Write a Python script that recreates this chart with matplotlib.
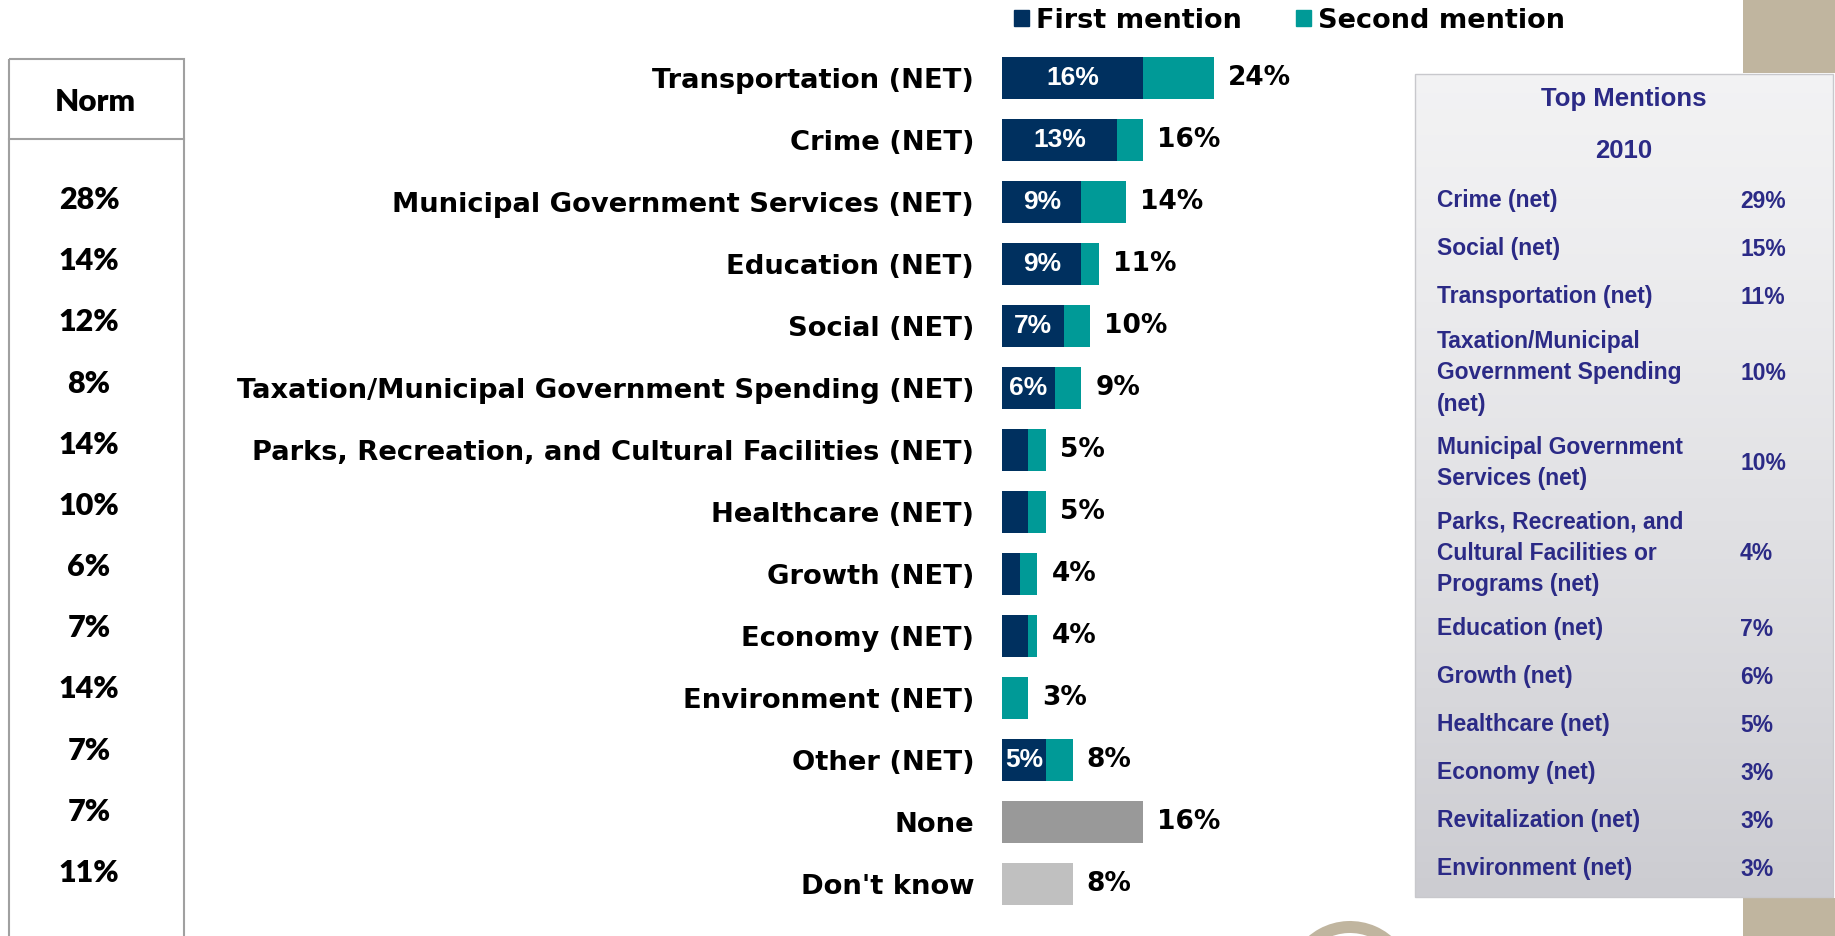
import matplotlib.pyplot as plt
import numpy as np
from matplotlib.patches import Rectangle, Patch, Wedge

# Data
categories = ['Transportation (NET)', 'Crime (NET)', 'Municipal Government Services (NET)',
              'Education (NET)', 'Social (NET)', 'Taxation/Municipal Government Spending (NET)',
              'Parks, Recreation, and Cultural Facilities (NET)', 'Healthcare (NET)',
              'Growth (NET)', 'Economy (NET)', 'Environment (NET)', 'Other (NET)',
              'None', "Don't know"]
first_mention = [16, 13, 9, 9, 7, 6, 3, 3, 2, 3, 0, 5, 0, 0]
second_mention = [8, 3, 5, 2, 3, 3, 2, 2, 2, 1, 3, 3, 0, 0]
none_dk = [0, 0, 0, 0, 0, 0, 0, 0, 0, 0, 0, 0, 16, 8]
totals = [24, 16, 14, 11, 10, 9, 5, 5, 4, 4, 3, 8, 16, 8]
inside_labels = ['16%', '13%', '9%', '9%', '7%', '6%', '', '', '', '', '', '5%', '', '']

norm_values = ['28%', '14%', '12%', '8%', '14%', '10%', '6%', '7%', '14%', '7%', '7%', '11%']

top_names = ['Crime (net)', 'Social (net)', 'Transportation (net)',
             'Taxation/Municipal\nGovernment Spending\n(net)',
             'Municipal Government\nServices (net)',
             'Parks, Recreation, and\nCultural Facilities or\nPrograms (net)',
             'Education (net)', 'Growth (net)', 'Healthcare (net)', 'Economy (net)',
             'Revitalization (net)', 'Environment (net)']
top_values = ['29%', '15%', '11%', '10%', '10%', '4%', '7%', '6%', '5%', '3%', '3%', '3%']

navy = '#00305f'
teal = '#009a97'
gray_none = '#999999'
gray_dk = '#c0c0c0'
table_blue = '#2b2a86'
tan = '#c0b59f'

W, H = 1835, 936
fig = plt.figure(figsize=(W / 100, H / 100), dpi=100)

# background layer in pixel coordinates
bg = fig.add_axes([0, 0, 1, 1])
bg.set_xlim(0, W)
bg.set_ylim(H, 0)
bg.axis('off')

# Norm box
bg.add_patch(Rectangle((9, 59), 175, 900, fill=False, edgecolor='#a0a0a0', lw=1.5))
bg.plot([9, 184], [139, 139], color='#a0a0a0', lw=1.5)
bg.text(95, 102, 'Norm', ha='center', va='center', fontsize=22.5, fontweight='heavy',
        family='Lato', color='black')
norm_y = np.linspace(200, 873, len(norm_values))
for v, y in zip(norm_values, norm_y):
    bg.text(89, y, v, ha='center', va='center', fontsize=22, fontweight='heavy',
            family='Lato', color='black')

# right panel with gradient
grad = np.linspace(0, 1, 256).reshape(-1, 1)
top_c = np.array([0.95, 0.95, 0.955])
bot_c = np.array([0.80, 0.80, 0.82])
img = top_c + (bot_c - top_c) * grad[:, :, None] ** 1.3
bg.imshow(img, extent=(1415, 1833, 897, 74), aspect='auto', zorder=1)
bg.add_patch(Rectangle((1415, 74), 418, 823, fill=False, edgecolor='#c8c8cc', lw=1, zorder=2))

# tan decorations
bg.add_patch(Rectangle((1743, 0), 92, 73, color=tan, lw=0, zorder=0))
bg.add_patch(Rectangle((1743, 898), 92, 38, color=tan, lw=0, zorder=0))
bg.add_patch(Wedge((1350, 985), 64, 215, 320, width=12, color=tan, lw=0))

# table text
bg.text(1624, 99, 'Top Mentions', ha='center', va='center', fontsize=18.5, fontweight='bold',
        color=table_blue, family='Liberation Sans', zorder=3)
bg.text(1624, 151, '2010', ha='center', va='center', fontsize=18.5, fontweight='bold',
        color=table_blue, family='Liberation Sans', zorder=3)
line_h = 28.0
row_gap = 48
y = 201 - row_gap / 2
for name, val in zip(top_names, top_values):
    nl = name.count('\n') + 1
    h = row_gap + (nl - 1) * line_h
    yc = y + h / 2
    bg.text(1437, yc, name, ha='left', va='center', fontsize=16.5, fontweight='bold',
            color=table_blue, family='Liberation Sans', linespacing=1.45, zorder=3)
    bg.text(1740, yc, val, ha='left', va='center', fontsize=16.5, fontweight='bold',
            color=table_blue, family='Liberation Sans', zorder=3)
    y += h

# bar chart
x0 = 1002
px_per = 8.83
xmax = 30
row_h = 62.0
n = len(categories)
top_px = 78.4 - row_h / 2
ax = fig.add_axes([x0 / W, 1 - (top_px + n * row_h) / H, xmax * px_per / W, n * row_h / H])
ax.patch.set_alpha(0)
pos = np.arange(n)
ax.barh(pos, first_mention, height=0.68, color=navy, label='First mention')
ax.barh(pos, second_mention, left=first_mention, height=0.68, color=teal, label='Second mention')
colors_nd = [gray_none if i == n - 2 else gray_dk for i in range(n)]
ax.barh(pos, none_dk, height=0.68, color=colors_nd)
ax.set_xlim(0, xmax)
ax.set_ylim(n - 0.5, -0.5)
ax.set_yticks(pos)
ax.set_yticklabels(categories, fontsize=19.7, fontweight='bold', family='DejaVu Sans')
ax.tick_params(axis='y', length=0, pad=20)
ax.set_xticks([])
for s in ax.spines.values():
    s.set_visible(False)

for i in range(n):
    if inside_labels[i]:
        ax.text(first_mention[i] / 2, i, inside_labels[i], ha='center', va='center',
                color='white', fontsize=19, fontweight='bold', family='Liberation Sans')
    end = first_mention[i] + second_mention[i] + none_dk[i]
    ax.text(end + 1.6, i, f'{totals[i]}%', ha='left', va='center', fontsize=19,
            fontweight='bold', family='DejaVu Sans', color='black')

handles = [Patch(color=navy), Patch(color=teal)]
fig.legend(handles, ['First mention', 'Second mention'], loc='upper left',
           bbox_to_anchor=(990 / W, 1.018), ncol=2, frameon=False,
           handlelength=0.55, handleheight=0.55, handletextpad=0.25, columnspacing=2.0,
           prop={'family': 'DejaVu Sans', 'weight': 'bold', 'size': 19.5})

fig.savefig('out.png', dpi=100)
